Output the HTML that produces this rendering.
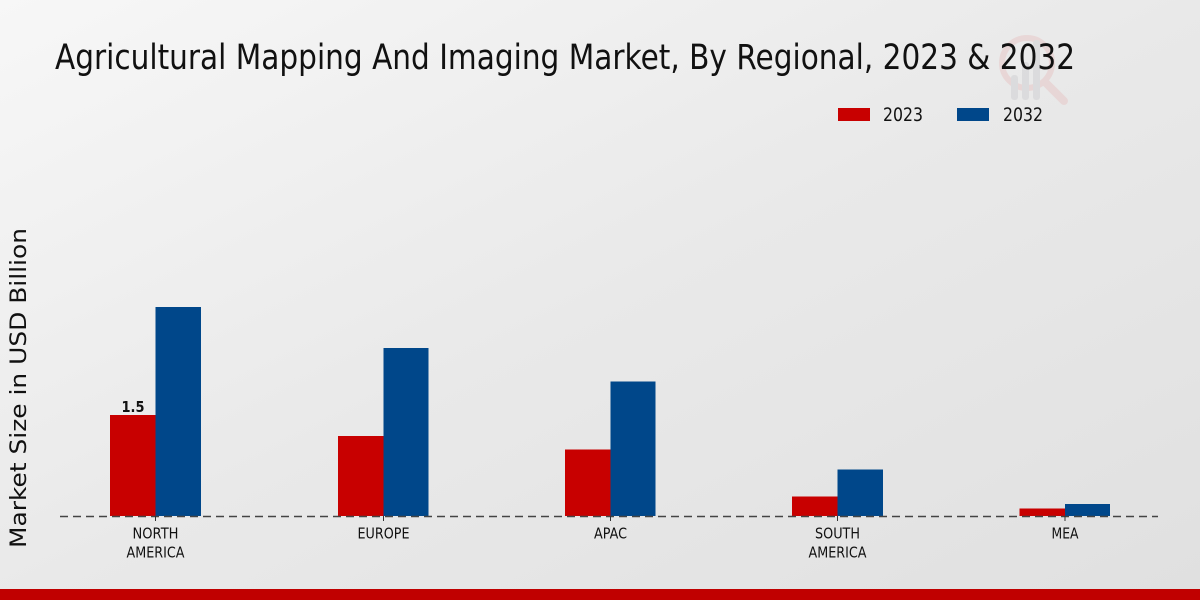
<!DOCTYPE html>
<html><head><meta charset="utf-8"><style>
html,body{margin:0;padding:0;}
body{width:1200px;height:600px;overflow:hidden;}
svg{display:block;}
</style></head><body>
<svg width="1200" height="600" viewBox="0 0 1200 600" xmlns="http://www.w3.org/2000/svg">
<defs>
<linearGradient id="bg" x1="0" y1="0" x2="1" y2="1">
<stop offset="0" stop-color="#f7f7f7"/>
<stop offset="0.5" stop-color="#e9e9e9"/>
<stop offset="1" stop-color="#e0e0e0"/>
</linearGradient>
</defs>
<rect x="0" y="0" width="1200" height="600" fill="url(#bg)"/>
<!-- watermark -->
<g opacity="0.4">
<circle cx="1027" cy="63" r="25" fill="none" stroke="#e6bcbc" stroke-width="6"/>
<line x1="1045" y1="82" x2="1064" y2="101" stroke="#e6bcbc" stroke-width="8" stroke-linecap="round"/>
<rect x="1011" y="75" width="7" height="25" rx="3" fill="#c8c8cc"/>
<rect x="1022" y="62" width="7" height="38" rx="3" fill="#c8c8cc"/>
<rect x="1033" y="40" width="7" height="60" rx="3" fill="#c8c8cc"/>
</g>
<text x="55" y="69" font-family="DejaVu Sans, Liberation Sans, sans-serif" font-size="35" fill="#111" textLength="1020" lengthAdjust="spacingAndGlyphs">Agricultural Mapping And Imaging Market, By Regional, 2023 &amp; 2032</text>
<!-- legend -->
<rect x="838" y="108" width="32" height="13" fill="#c80000"/>
<text x="883" y="121" font-family="DejaVu Sans, Liberation Sans, sans-serif" font-size="19" fill="#111" textLength="40" lengthAdjust="spacingAndGlyphs">2023</text>
<rect x="957" y="108" width="32" height="13" fill="#00478a"/>
<text x="1003" y="121" font-family="DejaVu Sans, Liberation Sans, sans-serif" font-size="19" fill="#111" textLength="40" lengthAdjust="spacingAndGlyphs">2032</text>
<!-- y axis label -->
<text transform="translate(26,388) rotate(-90)" text-anchor="middle" font-family="DejaVu Sans, Liberation Sans, sans-serif" font-size="22" fill="#111" textLength="320" lengthAdjust="spacingAndGlyphs">Market Size in USD Billion</text>
<!-- bars -->
<g>
<rect x="110" y="415" width="45.5" height="101" fill="#c80000"/>
<rect x="155.5" y="307" width="45.5" height="209" fill="#00478a"/>
<rect x="338" y="436" width="45.5" height="80" fill="#c80000"/>
<rect x="383.5" y="348" width="45" height="168" fill="#00478a"/>
<rect x="565" y="449.5" width="45.5" height="66.5" fill="#c80000"/>
<rect x="610.5" y="381.5" width="45" height="134.5" fill="#00478a"/>
<rect x="792" y="496.5" width="45.5" height="19.5" fill="#c80000"/>
<rect x="837.5" y="469.5" width="45.5" height="46.5" fill="#00478a"/>
<rect x="1019.5" y="508.5" width="45.5" height="7.5" fill="#c80000"/>
<rect x="1065" y="504" width="45" height="12" fill="#00478a"/>
</g>
<text x="133" y="412" text-anchor="middle" font-family="DejaVu Sans, Liberation Sans, sans-serif" font-size="15.5" font-weight="bold" fill="#111" textLength="23" lengthAdjust="spacingAndGlyphs">1.5</text>
<!-- baseline -->
<line x1="60" y1="516.5" x2="1158" y2="516.5" stroke="#444" stroke-width="1.4" stroke-dasharray="8,5"/>
<g stroke="#333" stroke-width="1">
<line x1="155.5" y1="516" x2="155.5" y2="521"/>
<line x1="383.5" y1="516" x2="383.5" y2="521"/>
<line x1="610.5" y1="516" x2="610.5" y2="521"/>
<line x1="837.5" y1="516" x2="837.5" y2="521"/>
<line x1="1065" y1="516" x2="1065" y2="521"/>
</g>
<g font-family="DejaVu Sans, Liberation Sans, sans-serif" font-size="15.5" fill="#111" text-anchor="middle">
<text x="155.5" y="538.5" textLength="46" lengthAdjust="spacingAndGlyphs">NORTH</text>
<text x="155.5" y="557.5" textLength="58" lengthAdjust="spacingAndGlyphs">AMERICA</text>
<text x="383.5" y="538.5" textLength="52" lengthAdjust="spacingAndGlyphs">EUROPE</text>
<text x="610.5" y="538.5" textLength="33" lengthAdjust="spacingAndGlyphs">APAC</text>
<text x="837.5" y="538.5" textLength="45" lengthAdjust="spacingAndGlyphs">SOUTH</text>
<text x="837.5" y="557.5" textLength="58" lengthAdjust="spacingAndGlyphs">AMERICA</text>
<text x="1065" y="538.5" textLength="27" lengthAdjust="spacingAndGlyphs">MEA</text>
</g>
<rect x="0" y="589" width="1200" height="11" fill="#c00000"/>
</svg>
</body></html>
